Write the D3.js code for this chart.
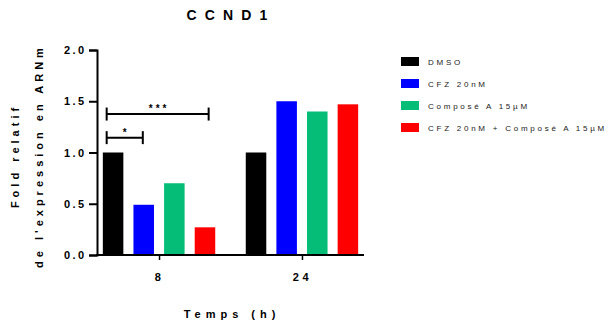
<!DOCTYPE html>
<html>
<head>
<meta charset="utf-8">
<script src="https://cdn.jsdelivr.net/npm/d3@7"></script>
<style>
  html, body { margin: 0; padding: 0; background: #fff; }
  svg { display: block; font-family: "Liberation Sans", Arial, sans-serif; }
</style>
</head>
<body>
<svg id="chart" width="609" height="326"></svg>
<script>
// ---- data ----
const groups = ["8", "24"];
const seriesNames = ["DMSO", "CFZ 20nM", "Composé A 15µM", "CFZ 20nM + Composé A 15µM"];
const seriesColors = ["#000000", "#0000ff", "#05bd77", "#ff0000"];
const values8 = [1.0, 0.49, 0.70, 0.27];
const values24 = [1.0, 1.50, 1.40, 1.47];
const yTicks = [0.0, 0.5, 1.0, 1.5, 2.0];
const yTickLabels = ["0.0", "0.5", "1.0", "1.5", "2.0"];
// significance brackets (positions in bar-index units within a group, y in data units)
const brackets = [
  { group: "8", from: -0.21, to: 0.97, y: 1.145, label: "*" },
  { group: "8", from: -0.21, to: 3.12, y: 1.375, label: "***" }
];

const table = groups.map((g, gi) => ({
  group: g,
  values: [values8, values24][gi].map((v, si) => ({ series: seriesNames[si], value: v, color: seriesColors[si] }))
}));

// ---- layout ----
const svg = d3.select("#chart");
const axisLeft = 97, axisRight = 364, yBottom = 255, yTop = 50;

const y = d3.scaleLinear().domain([0, 2]).range([yBottom, yTop]);
const x = d3.scalePoint().domain(groups).range([axisLeft, axisRight]).padding(0.434);
const xs = d3.scaleBand().domain(seriesNames).range([-56.2, 56.2]).paddingInner(0.33).paddingOuter(0);
const idx = d3.scaleLinear().domain([0, 1]).range([xs(seriesNames[0]) + xs.bandwidth() / 2, xs(seriesNames[1]) + xs.bandwidth() / 2]);

// bars
const g = svg.append("g");
table.forEach(grp => {
  g.selectAll(null).data(grp.values).enter().append("rect")
    .attr("x", d => x(grp.group) + xs(d.series))
    .attr("width", xs.bandwidth())
    .attr("y", d => y(d.value))
    .attr("height", d => y(0) - y(d.value))
    .attr("fill", d => d.color);
});

// y axis
const yAxis = svg.append("g").attr("transform", `translate(${axisLeft},0)`)
  .call(d3.axisLeft(y).tickValues(yTicks).tickFormat((d, i) => yTickLabels[i]).tickSizeOuter(0).tickSize(8).tickPadding(5));
yAxis.select(".domain").attr("stroke", "#000").attr("stroke-width", 2);
yAxis.selectAll(".tick line").attr("stroke", "#000").attr("stroke-width", 2);
yAxis.selectAll(".tick text")
  .attr("font-family", "Liberation Sans, Arial, sans-serif")
  .attr("font-size", 11).attr("font-weight", "bold").attr("fill", "#000")
  .attr("letter-spacing", "2.4px").attr("dx", "2.4px");

// x axis
const xAxis = svg.append("g").attr("transform", `translate(0,${yBottom})`)
  .call(d3.axisBottom(x).tickSizeOuter(0).tickSize(5).tickPadding(13));
xAxis.select(".domain").attr("stroke", "#000").attr("stroke-width", 2)
  .attr("d", `M${axisLeft - 1},0H${axisRight}`);
xAxis.selectAll(".tick line").attr("stroke", "#000").attr("stroke-width", 1.5);
xAxis.selectAll(".tick text")
  .attr("font-family", "Liberation Sans, Arial, sans-serif")
  .attr("font-size", 11).attr("font-weight", "bold").attr("fill", "#000")
  .attr("letter-spacing", "3.5px");

// brackets
brackets.forEach(b => {
  const x1 = x(b.group) + idx(b.from), x2 = x(b.group) + idx(b.to), yy = y(b.y);
  const bg = svg.append("g").attr("stroke", "#000").attr("stroke-width", 2);
  bg.append("line").attr("x1", x1).attr("x2", x2).attr("y1", yy).attr("y2", yy);
  bg.append("line").attr("x1", x1).attr("x2", x1).attr("y1", yy - 6.5).attr("y2", yy + 6.5);
  bg.append("line").attr("x1", x2).attr("x2", x2).attr("y1", yy - 6.5).attr("y2", yy + 6.5);
  svg.append("text").attr("x", (x1 + x2) / 2 + 1.5).attr("y", yy - 2)
    .attr("text-anchor", "middle").attr("font-size", 10).attr("font-weight", "bold")
    .attr("letter-spacing", "3px").text(b.label);
});

// title
svg.append("text").attr("x", 231).attr("y", 20).attr("text-anchor", "middle")
  .attr("font-size", 14).attr("font-weight", "bold").attr("letter-spacing", "8.2px")
  .text("CCND1");

// x title
svg.append("text").attr("x", 232).attr("y", 318).attr("text-anchor", "middle")
  .attr("font-size", 11).attr("font-weight", "bold").attr("letter-spacing", "5px")
  .text("Temps (h)");

// y title
const yt = svg.append("text").attr("transform", "translate(0,156) rotate(-90)")
  .attr("text-anchor", "middle").attr("font-size", 11).attr("font-weight", "bold").attr("letter-spacing", "4px");
yt.append("tspan").attr("x", 0).attr("y", 19).text("Fold relatif");
yt.append("tspan").attr("x", 0).attr("y", 43).text("de l'expression en ARNm");

// legend
const leg = svg.append("g").attr("transform", "translate(401,57)");
const li = leg.selectAll("g").data(seriesNames).enter().append("g")
  .attr("transform", (d, i) => `translate(0,${i * 22})`);
li.append("rect").attr("width", 18).attr("height", 9).attr("fill", (d, i) => seriesColors[i]);
li.append("text").attr("x", 27).attr("y", 8).attr("font-size", 8).attr("fill", "#222")
  .attr("letter-spacing", "2.75px").text(d => d);
</script>
</body>
</html>
